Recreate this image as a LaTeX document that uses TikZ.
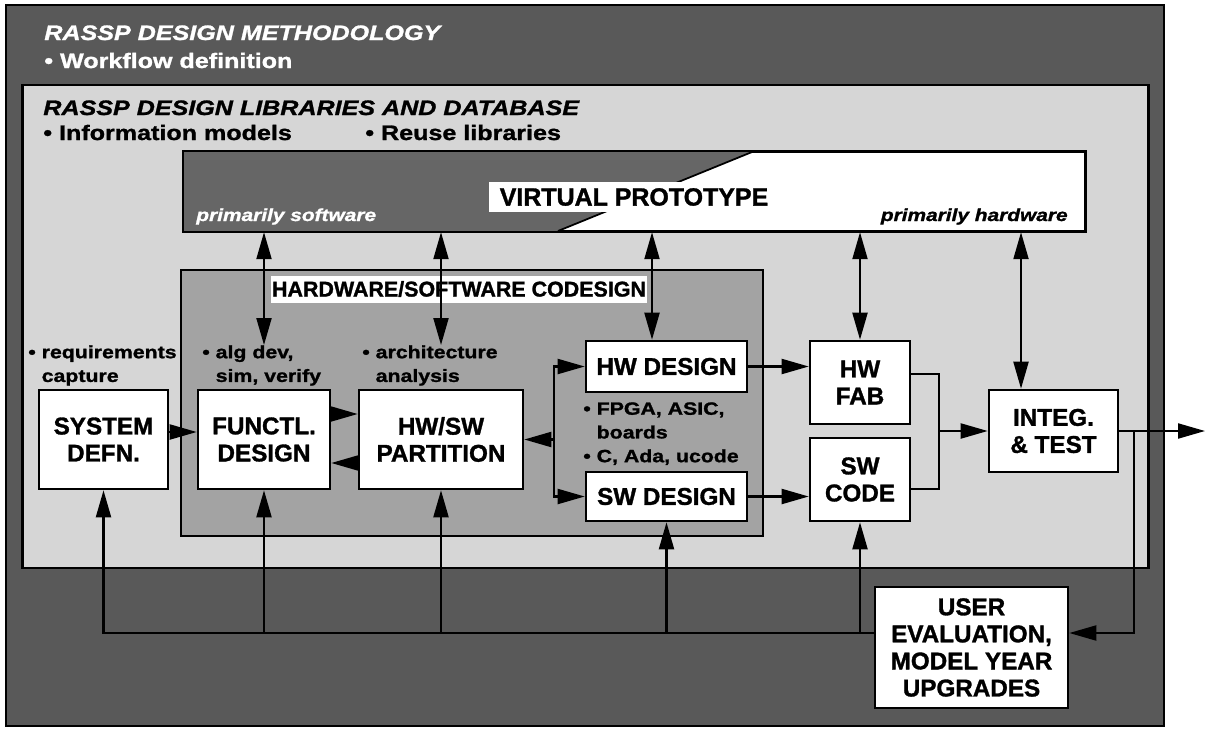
\documentclass[tikz,border=0pt]{standalone}
\usepackage{fontspec}
\setmainfont{Liberation Sans}[BoldFeatures={FakeBold=1.3}, BoldItalicFeatures={FakeBold=1.3}]
\newfontfamily\widesans{Liberation Sans}[FakeStretch=1.2, BoldFeatures={FakeBold=1.3}, BoldItalicFeatures={FakeBold=1.3}]
\usetikzlibrary{arrows.meta}

\definecolor{methodgray}{HTML}{595959}
\definecolor{librarygray}{HTML}{D6D6D6}
\definecolor{codesigngray}{HTML}{A3A3A3}
\definecolor{protogray}{HTML}{666666}

\tikzset{
    stage/.style={draw, line width=1.5pt, fill=white, align=center, inner sep=0pt,
        font=\fontsize{13.8}{15.4}\selectfont\bfseries},
    note/.style={anchor=north west, align=left, inner sep=0pt,
        font=\widesans\fontsize{10.1}{13.5}\selectfont\bfseries},
    heading/.style={anchor=base west, inner sep=0pt,
        font=\widesans\fontsize{11.9}{14}\selectfont\bfseries},
    side/.style={inner sep=0pt, font=\widesans\fontsize{9.9}{12}\selectfont\bfseries\itshape},
    flow/.style={line width=1.2pt, -{Triangle[length=0.54cm, width=0.3cm]}},
    twoway/.style={line width=1.2pt, {Triangle[length=0.54cm, width=0.3cm]}-{Triangle[length=0.54cm, width=0.3cm]}},
    wire/.style={line width=1.2pt},
}

\begin{document}
\begin{tikzpicture}[x=0.02cm, y=-0.02cm]
    \useasboundingbox (0,0) rectangle (1207,730);

    \node[draw, line width=1.4pt, fill=methodgray, minimum width=23.16cm, minimum height=14.42cm] (method) at (585,365.5) {};
    \node[draw, line width=1.6pt, fill=librarygray, minimum width=22.54cm, minimum height=9.66cm] (library) at (585.5,326.5) {};
    \node[draw, line width=1.4pt, fill=codesigngray, minimum width=11.64cm, minimum height=5.32cm] (codesign) at (472,403) {};

    \node[heading, text=white] (methtitle) at (44,40) {\itshape RASSP DESIGN METHODOLOGY};
    \node[heading, text=white] (workflow) at (44,68) {• Workflow definition};
    \node[heading] (libtitle) at (43,115) {\itshape RASSP DESIGN LIBRARIES AND DATABASE};
    \node[heading] (infomodels) at (43,140) {• Information models};
    \node[heading] (reuse) at (365,140) {• Reuse libraries};

    \node[draw, line width=1.4pt, fill=white, minimum width=18.02cm, minimum height=1.58cm] (proto) at (634.5,191.5) {};
    \coordinate (wedgetop) at (752,152);
    \coordinate (wedgebot) at (558,231);
    \fill[protogray] (proto.north west) -- (wedgetop) -- (wedgebot) -- (proto.south west) -- cycle;
    \draw[line width=1pt] (wedgetop) -- (wedgebot);
    \draw[line width=1.4pt] (proto.north west) rectangle (proto.south east);
    \node[fill=white, minimum width=5.8cm, minimum height=0.6cm, inner sep=0pt,
        font=\fontsize{14.2}{16}\selectfont\bfseries] (protolabel) at (634,197) {VIRTUAL PROTOTYPE};
    \node[side, anchor=base west, text=white] (softside) at (196,221) {primarily software};
    \node[side, anchor=base east] (hardside) at (1068,221) {primarily hardware};

    \node[fill=white, minimum width=7.52cm, minimum height=0.54cm, inner sep=0pt,
        font=\fontsize{12.2}{14}\selectfont\bfseries] (codesignlabel) at (459,289) {HARDWARE/SOFTWARE CODESIGN};

    \node[stage, minimum width=2.58cm, minimum height=1.98cm] (sysdef) at (103.5,439.5) {SYSTEM\\DEFN.};
    \node[stage, minimum width=2.64cm, minimum height=1.98cm] (functl) at (264,439.5) {FUNCTL.\\DESIGN};
    \node[stage, minimum width=3.28cm, minimum height=1.98cm] (hwsw) at (441,439.5) {HW/SW\\PARTITION};
    \node[stage, minimum width=3.22cm, minimum height=1.02cm] (hwdes) at (666.5,366.5) {HW DESIGN};
    \node[stage, minimum width=3.22cm, minimum height=0.98cm] (swdes) at (666.5,496.5) {SW DESIGN};
    \node[stage, minimum width=2cm, minimum height=1.66cm] (hwfab) at (860,382.5) {HW\\FAB};
    \node[stage, minimum width=2cm, minimum height=1.66cm] (swcode) at (860,479.5) {SW\\CODE};
    \node[stage, minimum width=2.58cm, minimum height=1.64cm] (integ) at (1053.5,431) {INTEG.\\\& TEST};
    \node[stage, minimum width=3.86cm, minimum height=2.42cm] (usereval) at (971.5,647.5) {USER\\EVALUATION,\\MODEL YEAR\\UPGRADES};

    \node[note] (reqnote) at (28,345) {• requirements\\\hphantom{• }capture};
    \node[note] (algnote) at (202,345) {• alg dev,\\\hphantom{• }sim, verify};
    \node[note] (archnote) at (362,345) {• architecture\\\hphantom{• }analysis};
    \node[note] (impnote) at (583,402) {• FPGA, ASIC,\\\hphantom{• }boards\\• C, Ada, ucode};

    \coordinate (split) at (554,439.5);
    \coordinate (merge) at (939,431);
    \coordinate (tap) at (1134,431);
    \coordinate (exit) at (1205,431);
    \coordinate (bus) at (103.5,633);
    \coordinate (hwdestop) at ([xshift=-0.29cm]hwdes.north);
    \coordinate (integtop) at ([xshift=-0.65cm]integ.north);

    \draw[twoway] (proto.south -| functl) -- (algnote.north -| functl);
    \draw[twoway] (proto.south -| hwsw) -- (archnote.north -| hwsw);
    \draw[twoway] (hwdestop |- proto.south) -- (hwdestop);
    \draw[twoway] (proto.south -| hwfab) -- (hwfab.north);
    \draw[twoway] (integtop |- proto.south) -- (integtop);

    \draw[flow] ([yshift=0.15cm]sysdef.east) -- ([yshift=0.15cm]functl.west);
    \draw[flow] ([yshift=0.51cm]functl.east) -- ([yshift=0.51cm]hwsw.west);
    \draw[flow] ([yshift=-0.47cm]hwsw.west) -- ([yshift=-0.47cm]functl.east);
    \draw[flow] (split) -- (hwsw.east);
    \draw[flow] (split |- swdes.west) |- (hwdes.west);
    \draw[flow] (split) |- (swdes.west);
    \draw[flow] (hwdes) -- (hwfab.west |- hwdes);
    \draw[flow] (swdes) -- (swcode.west |- swdes);
    \draw[wire] ([yshift=0.17cm]hwfab.east) -| (merge) |- ([yshift=-0.19cm]swcode.east);
    \draw[flow] (merge) -- (integ.west |- merge);
    \draw[flow] (integ.east) -- (exit);
    \draw[flow] (tap) |- (usereval.east |- bus);

    \draw[flow] (usereval.west |- bus) -- (bus) -- (sysdef.south);
    \draw[flow] (functl |- bus) -- (functl.south);
    \draw[flow] (hwsw |- bus) -- (hwsw.south);
    \draw[flow] (swdes |- bus) -- (swdes.south);
    \draw[flow] (swcode |- bus) -- (swcode.south);

\end{tikzpicture}
\end{document}
